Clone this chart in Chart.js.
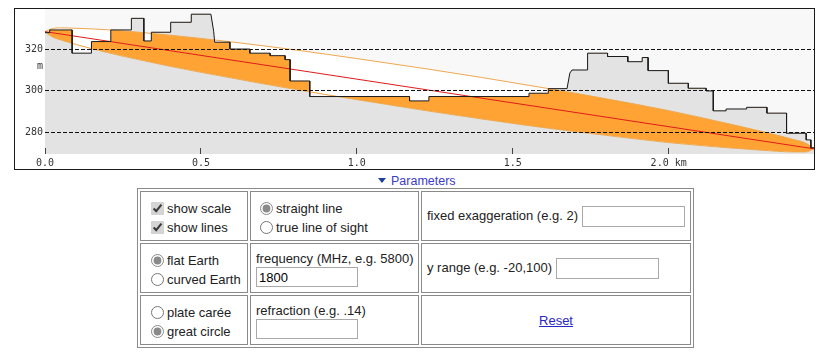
<!DOCTYPE html>
<html>
<head>
<meta charset="utf-8">
<script src="https://cdn.jsdelivr.net/npm/chart.js"></script>
<style>
body{margin:0;background:#fff;font-family:"Liberation Sans",Arial,sans-serif;font-size:13px;color:#222;}
#frame{position:absolute;left:14px;top:8px;width:799px;height:160px;border:1px solid #1a1a1a;background:#fff;}
#frame canvas{display:block;}
#tri{position:absolute;left:378px;top:178px;width:0;height:0;border-left:4.5px solid transparent;border-right:4.5px solid transparent;border-top:5.5px solid #1d3f9e;}
#params{position:absolute;left:391px;top:174px;font-size:12.5px;line-height:14px;color:#3b3bc9;white-space:nowrap;}
table{position:absolute;left:137px;top:188px;width:557px;table-layout:fixed;border:1px solid #8a8a8a;border-spacing:2px;border-collapse:separate;}
td{border:1px solid #8a8a8a;padding:0 5px;height:48px;box-sizing:content-box;white-space:nowrap;overflow:visible;}
td.lst{vertical-align:top;padding-top:7px;height:41px;}
td.c1{width:96px;}
td.c2{width:157px;}
td.c3{width:258px;vertical-align:middle;}
.ln{height:19px;line-height:19px;}
.lab{height:16px;line-height:16px;}
input[type=checkbox],input[type=radio]{width:13px;height:13px;margin:0 3px 0 5px;vertical-align:-2px;}
input[type=checkbox]{accent-color:#d4d4d4;}
input[type=radio]{accent-color:#8a8a8a;}
td.c2 input[type=radio]{margin-left:4px;}
input[type=text]{box-sizing:border-box;width:103px;height:21px;border:1px solid #a9a9a9;padding:0 2px;font:13px "Liberation Sans",Arial,sans-serif;margin:0;vertical-align:middle;background:#fff;}
td.c2 input[type=text]{display:block;width:102px;height:20px;}
a{color:#2727c6;}
</style>
</head>
<body>
<div id="frame"><canvas id="c" width="799" height="160"></canvas></div>
<div id="tri"></div>
<div id="params">Parameters</div>
<table>
<tr>
<td class="c1 lst"><div class="ln"><input type="checkbox" checked>show scale</div><div class="ln"><input type="checkbox" checked>show lines</div></td>
<td class="c2 lst"><div class="ln"><input type="radio" name="los" checked>straight line</div><div class="ln"><input type="radio" name="los">true line of sight</div></td>
<td class="c3">fixed exaggeration (e.g. 2) <input type="text"></td>
</tr>
<tr>
<td class="c1 lst"><div class="ln"><input type="radio" name="earth" checked>flat Earth</div><div class="ln"><input type="radio" name="earth">curved Earth</div></td>
<td class="c2 lst"><div class="lab">frequency (MHz, e.g. 5800)</div><input type="text" value="1800"></td>
<td class="c3">y range (e.g. -20,100) <input type="text"></td>
</tr>
<tr>
<td class="c1 lst"><div class="ln"><input type="radio" name="proj">plate carée</div><div class="ln"><input type="radio" name="proj" checked>great circle</div></td>
<td class="c2 lst"><div class="lab">refraction (e.g. .14)</div><input type="text"></td>
<td class="c3" style="text-align:center"><a href="#">Reset</a></td>
</tr>
</table>
<script>
// ---- data ----
const xTickValues = [0, 0.5, 1.0, 1.5, 2.0];
const xTickLabels = ['0.0', '0.5', '1.0', '1.5', '2.0 km'];
const yTickValues = [280, 300, 320];
const yTickLabels = ['280', '300', '320'];
const yUnit = 'm';

// terrain profile vertices (km, m)
const terrainKm = [0.000, 0.015, 0.015, 0.087, 0.087, 0.149, 0.149, 0.211, 0.211, 0.277, 0.277, 0.317, 0.317, 0.341, 0.341, 0.403, 0.403, 0.469, 0.469, 0.532, 0.541, 0.544, 0.593, 0.593, 0.657, 0.657, 0.722, 0.722, 0.770, 0.770, 0.786, 0.786, 0.849, 0.849, 1.169, 1.169, 1.231, 1.231, 1.552, 1.552, 1.614, 1.614, 1.674, 1.683, 1.690, 1.740, 1.740, 1.804, 1.804, 1.869, 1.869, 1.915, 1.915, 1.934, 1.934, 1.999, 1.999, 2.063, 2.063, 2.120, 2.120, 2.143, 2.143, 2.184, 2.184, 2.250, 2.250, 2.315, 2.315, 2.378, 2.378, 2.441, 2.441, 2.456, 2.456, 2.466];
const terrainM  = [328.0, 328.0, 329.3, 329.3, 318.1, 318.1, 323.7, 323.7, 329.3, 329.3, 334.9, 334.9, 324.0, 324.0, 328.2, 328.2, 333.0, 333.0, 336.9, 336.9, 328.5, 323.4, 323.4, 320.1, 320.1, 318.1, 318.1, 316.9, 316.9, 315.0, 315.0, 304.7, 304.7, 297.2, 297.2, 295.1, 295.1, 297.2, 297.2, 298.8, 298.8, 301.0, 301.0, 308.5, 310.0, 310.0, 318.1, 318.1, 316.5, 316.5, 314.0, 314.0, 316.0, 316.0, 309.7, 309.7, 303.6, 303.6, 301.2, 301.2, 299.9, 299.9, 290.3, 290.3, 291.2, 291.2, 292.0, 292.0, 289.2, 289.2, 279.5, 279.5, 276.3, 276.3, 272.5, 272.5];

// straight line of sight
const losKm = [0, 2.466];
const losM = [328.5, 272.0];

// first Fresnel zone edges
const fresnelKm     = [0, 0.02, 0.05, 0.1, 0.2, 0.3, 0.4, 0.6, 0.8, 1.0, 1.23, 1.4, 1.6, 1.8, 2.0, 2.2, 2.3, 2.4, 2.44, 2.466];
const fresnelUpperM = [328.5, 329.8, 330.3, 330.1, 329.4, 328.2, 326.8, 323.5, 319.7, 315.5, 310.4, 306.4, 301.4, 296.1, 290.4, 283.8, 280.3, 276.5, 274.7, 272.0];
const fresnelLowerM = [328.5, 326.2, 324.5, 322.3, 318.4, 315.0, 311.8, 306.1, 300.7, 295.7, 290.2, 286.4, 282.2, 278.5, 275.0, 272.4, 271.3, 270.5, 270.5, 272.0];

// ---- build ----
const pts = (xs, ys) => xs.map((x, i) => ({x: x, y: ys[i]}));
const T = pts(terrainKm, terrainM);
const S = pts(losKm, losM);
const U = pts(fresnelKm, fresnelUpperM);
const L = pts(fresnelKm, fresnelLowerM);

const GRAY = '#e3e3e3', ORANGE = '#ffa334', EDGE = '#eea84e', NONE = 'rgba(0,0,0,0)';
const MONO = '"DejaVu Sans Mono", monospace';
const base = {pointRadius: 0, pointHoverRadius: 0, borderWidth: 0, borderColor: NONE, fill: false};

const skyPlugin = {
  id: 'sky',
  beforeDraw(chart) {
    const {ctx, chartArea: a} = chart;
    ctx.save();
    ctx.fillStyle = '#f8f8f8';
    ctx.fillRect(a.left, a.top, a.right - a.left, a.bottom - a.top);
    ctx.restore();
  }
};
const unitPlugin = {
  id: 'unit',
  afterDraw(chart) {
    const ys = chart.scales.y, ctx = chart.ctx;
    ctx.save();
    ctx.font = '10px ' + MONO;
    ctx.fillStyle = '#333';
    ctx.textAlign = 'right';
    ctx.textBaseline = 'middle';
    ctx.fillText(yUnit, ys.right - 2, ys.getPixelForValue(yTickValues[yTickValues.length - 1]) + 17);
    ctx.restore();
  }
};

new Chart(document.getElementById('c'), {
  type: 'line',
  data: {
    datasets: [
      {...base, data: T, borderColor: '#1a1a1a', borderWidth: 1},                                   // 0 terrain line
      {...base, data: S, borderColor: '#e01b1b', borderWidth: 1},                                   // 1 line of sight
      {...base, data: U, borderColor: EDGE, borderWidth: 1, cubicInterpolationMode: 'monotone'},    // 2 upper edge
      {...base, data: L, borderColor: EDGE, borderWidth: 1, cubicInterpolationMode: 'monotone'},    // 3 lower edge
      {...base, data: U, cubicInterpolationMode: 'monotone', fill: {target: 7, above: NONE, below: GRAY}}, // 4 terrain above zone
      {...base, data: T, fill: {target: 3, above: ORANGE, below: NONE}},                            // 5 zone below terrain
      {...base, data: U, cubicInterpolationMode: 'monotone', fill: {target: 3, above: '#ffffff', below: '#ffffff'}}, // 6 clear zone
      {...base, data: T, fill: 'start', backgroundColor: GRAY}                                      // 7 terrain fill
    ]
  },
  options: {
    responsive: false,
    animation: false,
    events: [],
    layout: {padding: 0},
    plugins: {legend: {display: false}, tooltip: {enabled: false}},
    scales: {
      x: {
        type: 'linear', min: 0, max: 2.466, position: 'bottom',
        afterBuildTicks: s => { s.ticks = xTickValues.map(v => ({value: v})); },
        afterFit: s => { s.height = 15; s.paddingLeft = 0; s.paddingRight = 0; },
        ticks: {z: 1, autoSkip: false, maxRotation: 0, minRotation: 0, padding: 9, color: '#333',
                font: {family: MONO, size: 10}, callback: (v, i) => xTickLabels[i]},
        grid: {z: 1, drawOnChartArea: false, drawTicks: true, tickLength: -6, tickColor: '#444', tickWidth: 1},
        border: {display: false}
      },
      y: {
        type: 'linear', min: 269.5, max: 339.4, position: 'left',
        afterBuildTicks: s => { s.ticks = yTickValues.map(v => ({value: v})); },
        afterFit: s => { s.width = 30; s.paddingTop = 0; s.paddingBottom = 0; },
        ticks: {z: 1, padding: 2, color: '#333', font: {family: MONO, size: 10}, callback: (v, i) => yTickLabels[i]},
        grid: {z: 1, drawTicks: false, color: '#111', lineWidth: 1},
        border: {display: false, dash: [4, 2]}
      }
    }
  },
  plugins: [skyPlugin, unitPlugin]
});
</script>
</body>
</html>
